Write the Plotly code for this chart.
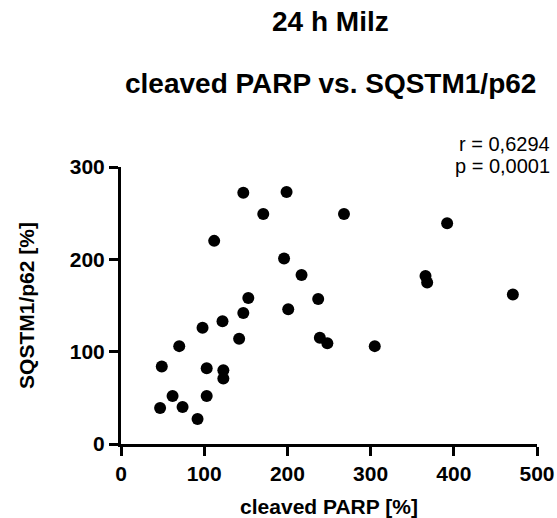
import plotly.graph_objects as go

# cleaved PARP [%] (x) vs SQSTM1/p62 [%] (y)
cleaved_parp = [147, 199, 171, 112, 196, 217, 153, 237, 147, 201, 122, 98, 142, 239, 248,
                70, 49, 103, 123, 123, 62, 103, 47, 74, 92,
                268, 392, 366, 368, 471, 305]
sqstm1_p62 = [272, 273, 249, 220, 201, 183, 158, 157, 142, 146, 133, 126, 114, 115, 109,
              106, 84, 82, 80, 71, 52, 52, 39, 40, 27,
              249, 239, 182, 175, 162, 106]

x_ticks = [0, 100, 200, 300, 400, 500]
y_ticks = [0, 100, 200, 300]

title_line1 = "24 h Milz"
title_line2 = "cleaved PARP vs. SQSTM1/p62"
stat_r = "r = 0,6294"
stat_p = "p = 0,0001"

FONT = "Liberation Sans, Arial, sans-serif"

# plot area in page pixels
L, R, T, B = 121, 537, 167, 444
W, H = 557, 518


def py(y):
    return (B - y) / (B - T)


def px(x):
    return (x - L) / (R - L)


fig = go.Figure()
fig.add_trace(go.Scatter(
    x=cleaved_parp, y=sqstm1_p62, mode="markers",
    marker=dict(color="black", size=12, line=dict(width=0)),
    cliponaxis=False, showlegend=False,
))

axis_common = dict(
    showline=True, linecolor="black", linewidth=3,
    ticks="outside", ticklen=9, tickwidth=3, tickcolor="black",
    showgrid=False, zeroline=False,
    tickfont=dict(family=FONT, size=21, color="black", weight="bold"),
)

fig.update_layout(
    width=W, height=H,
    margin=dict(l=L, r=W - R, t=T, b=H - B, autoexpand=False),
    plot_bgcolor="white", paper_bgcolor="white",
    xaxis=dict(range=[0, 500], tickvals=x_ticks,
               title=dict(text="<b>cleaved PARP [%]</b>",
                          font=dict(family=FONT, size=21, color="black"), standoff=16),
               **axis_common),
    yaxis=dict(range=[0, 300], tickvals=y_ticks,
               title=dict(text="<b>SQSTM1/p62 [%]</b>",
                          font=dict(family=FONT, size=21, color="black"), standoff=30),
               **axis_common),
    annotations=[
        dict(text="<b>" + title_line1 + "</b>", xref="paper", yref="paper",
             x=px(330), y=py(21), xanchor="center", yanchor="middle",
             showarrow=False, font=dict(family=FONT, size=28, color="black")),
        dict(text="<b>" + title_line2 + "</b>", xref="paper", yref="paper",
             x=px(330), y=py(84), xanchor="center", yanchor="middle",
             showarrow=False, font=dict(family=FONT, size=28, color="black")),
        dict(text=stat_r, xref="paper", yref="paper",
             x=px(552), y=py(144), xanchor="right", yanchor="middle",
             showarrow=False, font=dict(family=FONT, size=20, color="black")),
        dict(text=stat_p, xref="paper", yref="paper",
             x=px(552), y=py(166), xanchor="right", yanchor="middle",
             showarrow=False, font=dict(family=FONT, size=20, color="black")),
    ],
)

fig.write_html("out.html", config={"displayModeBar": False},
               post_script="document.body.style.margin='0px';")
